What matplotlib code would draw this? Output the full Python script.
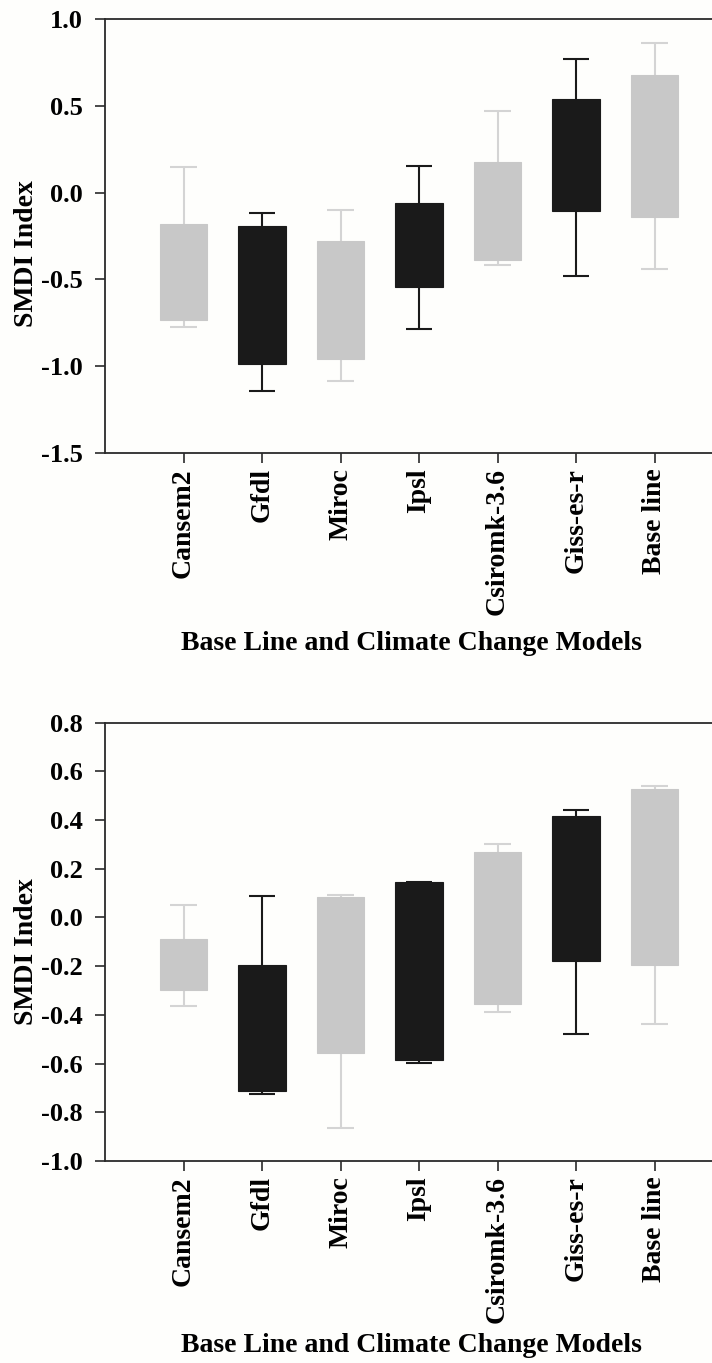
import matplotlib.pyplot as plt
import numpy as np

models = ['Cansem2', 'Gfdl', 'Miroc', 'Ipsl', 'Csiromk-3.6', 'Giss-es-r', 'Base line']
shade = ['light', 'dark', 'light', 'dark', 'light', 'dark', 'light']

# top panel (box quartiles + whisker ends)
top_q1 = [-0.731, -0.987, -0.960, -0.543, -0.389, -0.105, -0.138]
top_q3 = [-0.178, -0.191, -0.278, -0.061, 0.179, 0.539, 0.677]
top_lo = [-0.774, -1.141, -1.083, -0.787, -0.418, -0.480, -0.437]
top_hi = [0.149, -0.115, -0.099, 0.155, 0.473, 0.771, 0.864]

# bottom panel
bot_q1 = [-0.296, -0.713, -0.556, -0.584, -0.354, -0.177, -0.196]
bot_q3 = [-0.089, -0.195, 0.086, 0.147, 0.268, 0.417, 0.526]
bot_lo = [-0.362, -0.724, -0.866, -0.596, -0.388, -0.479, -0.438]
bot_hi = [0.051, 0.088, 0.091, 0.147, 0.302, 0.440, 0.539]

box_col = {'light': '#c8c8c8', 'dark': '#1a1a1a'}
wsk_col = {'light': '#d4d4d4', 'dark': '#1a1a1a'}

plt.rcParams['font.family'] = 'Liberation Serif'
plt.rcParams['font.weight'] = 'bold'

fig = plt.figure(figsize=(7.12, 13.63), dpi=100, facecolor='#fefefc')


def panel(ax, q1, q3, lo, hi, ylim, yticks, ylab_y, xpad):
    x = np.arange(len(models))
    q1 = np.array(q1); q3 = np.array(q3)
    for i in range(len(models)):
        c = shade[i]
        ax.vlines(x[i], lo[i], hi[i], color=wsk_col[c], lw=1.5, zorder=1)
        ax.hlines([lo[i], hi[i]], x[i] - 0.17, x[i] + 0.17, color=wsk_col[c], lw=1.5, zorder=1)
        ax.bar(x[i], q3[i] - q1[i], bottom=q1[i], width=0.61, color=box_col[c],
               edgecolor=box_col[c], lw=0.8, zorder=2)
    ax.set_xlim(-1, 6.8)
    ax.set_ylim(*ylim)
    ax.set_yticks(yticks)
    ax.set_yticklabels(['%.1f' % v for v in yticks], fontsize=19, fontweight='bold')
    ax.set_xticks(x)
    ax.set_xticklabels(models, rotation=90, fontsize=20, fontweight='bold')
    ax.set_facecolor('#fefefc')
    for s in ['left', 'bottom', 'top']:
        ax.spines[s].set_linewidth(1.3)
        ax.spines[s].set_color('#2a2a2a')
    ax.spines['right'].set_visible(False)
    ax.tick_params(direction='out', length=7, width=1.2, color='#2a2a2a')
    ax.tick_params(axis='y', pad=9)
    ax.tick_params(axis='x', pad=4)
    ax.set_ylabel('SMDI Index', fontsize=20, fontweight='bold')
    ax.yaxis.set_label_coords(-0.108, ylab_y)
    ax.set_xlabel('Base Line and Climate Change Models', fontsize=20, fontweight='bold', labelpad=xpad)


ax1 = fig.add_axes([0.1475, 0.6676, 0.86, 0.3184])
panel(ax1, top_q1, top_q3, top_lo, top_hi, (-1.5, 1.0), [-1.5, -1.0, -0.5, 0.0, 0.5, 1.0],
      0.46, 11)

ax2 = fig.add_axes([0.1475, 0.1482, 0.86, 0.3216])
panel(ax2, bot_q1, bot_q3, bot_lo, bot_hi, (-1.0, 0.8),
      [-1.0, -0.8, -0.6, -0.4, -0.2, 0.0, 0.2, 0.4, 0.6, 0.8], 0.477, 7)

fig.savefig('out.png', dpi=100, facecolor=fig.get_facecolor())
